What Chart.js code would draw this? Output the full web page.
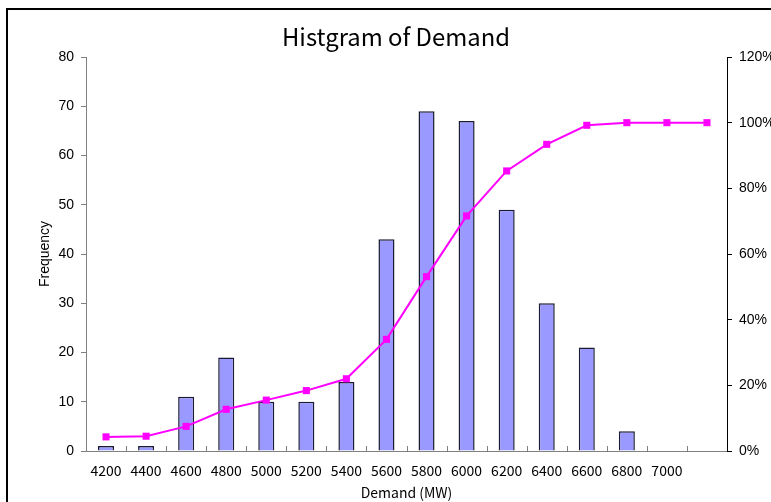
<!DOCTYPE html>
<html>
<head>
<meta charset="utf-8">
<script src="https://cdn.jsdelivr.net/npm/chart.js@4/dist/chart.umd.min.js"></script>
<style>
  html, body { margin: 0; padding: 0; background: #fff; }
</style>
</head>
<body>
<canvas id="histChart" width="771" height="502"></canvas>
<script>
// bins (upper bound of each demand class), last one is the open "more" class
const demandBins = ["4200", "4400", "4600", "4800", "5000", "5200", "5400", "5600",
  "5800", "6000", "6200", "6400", "6600", "6800", "7000", ""];
const frequency = [1, 1, 11, 19, 10, 10, 14, 43, 69, 67, 49, 30, 21, 4, 0, 0];
const cumulativePct = [4.3, 4.5, 7.5, 12.7, 15.5, 18.4, 22.0, 34.0, 53.1, 71.6, 85.3, 93.4, 99.2, 100, 100, 100];

const chartTitle = "Histgram of Demand";
const jpFont = "'Noto Sans CJK JP', 'Noto Sans', sans-serif";
const arialFont = "'Liberation Sans', Arial, sans-serif";

// white page + sheet frame + title
const framePlugin = {
  id: "frame",
  beforeDraw(chart) {
    const ctx = chart.ctx;
    ctx.save();
    ctx.fillStyle = "#fff";
    ctx.fillRect(0, 0, chart.width, chart.height);
    ctx.strokeStyle = "#000";
    ctx.lineWidth = 2;
    ctx.beginPath();
    ctx.moveTo(7, chart.height);
    ctx.lineTo(7, 9);
    ctx.lineTo(chart.width, 9);
    ctx.stroke();
    ctx.fillStyle = "#000";
    ctx.font = "24px " + jpFont;
    ctx.textAlign = "center";
    ctx.textBaseline = "alphabetic";
    ctx.fillText(chartTitle, 396, 46, 228);
    ctx.restore();
  }
};

// small tick marks on the category axis, pointing up between the bins
const innerTicks = {
  id: "innerTicks",
  afterDatasetsDraw(chart) {
    const x = chart.scales.x;
    const ctx = chart.ctx;
    const step = x.width / demandBins.length;
    ctx.save();
    ctx.strokeStyle = "#808080";
    ctx.lineWidth = 1;
    ctx.beginPath();
    for (let i = 1; i < demandBins.length; i++) {
      const px = Math.round(x.left + step * i) + 0.5;
      ctx.moveTo(px, x.top);
      ctx.lineTo(px, x.top - 5);
    }
    ctx.stroke();
    ctx.restore();
  }
};

const ctx = document.getElementById("histChart").getContext("2d");
new Chart(ctx, {
  data: {
    labels: demandBins,
    datasets: [
      {
        type: "line",
        label: "Cumulative %",
        data: cumulativePct,
        yAxisID: "y1",
        borderColor: "#FF00FF",
        borderWidth: 2,
        pointStyle: "rect",
        pointRadius: 5,
        pointBackgroundColor: "#FF00FF",
        pointBorderWidth: 0,
        tension: 0,
        order: 0
      },
      {
        type: "bar",
        label: "Frequency",
        data: frequency,
        yAxisID: "y",
        backgroundColor: "#9999FF",
        borderColor: "#1a1a33",
        borderWidth: c => (c.raw > 0 ? 1.5 : 0),
        barPercentage: 0.4,
        categoryPercentage: 1,
        order: 1
      }
    ]
  },
  options: {
    responsive: false,
    animation: false,
    layout: { padding: { top: 57, left: 0, right: 0, bottom: 0 } },
    plugins: {
      legend: { display: false },
      title: { display: false },
      tooltip: { enabled: false }
    },
    scales: {
      x: {
        offset: true,
        grid: { display: false },
        border: { color: "#808080", width: 1 },
        ticks: {
          color: "#000",
          padding: 3,
          maxRotation: 0,
          autoSkip: false,
          font: { family: jpFont, size: 14 }
        },
        title: {
          display: true,
          text: "Demand (MW)",
          color: "#000",
          font: { family: jpFont, size: 14 },
          padding: { top: 0, bottom: 1 }
        },
        afterFit: s => { s.height = 51; }
      },
      y: {
        position: "left",
        min: 0,
        max: 80,
        ticks: { stepSize: 10, color: "#000", padding: 7, font: { family: arialFont, size: 14 } },
        grid: { drawOnChartArea: false, tickLength: 5, color: "#808080" },
        border: { color: "#808080", width: 1 },
        title: {
          display: true,
          text: "Frequency",
          color: "#000",
          font: { family: arialFont, size: 14 },
          padding: { top: 37, bottom: 0 }
        },
        afterFit: s => { s.width = 86; }
      },
      y1: {
        position: "right",
        min: 0,
        max: 120,
        ticks: {
          stepSize: 20,
          color: "#000",
          padding: 7,
          font: { family: arialFont, size: 14 },
          callback: v => v + "%"
        },
        grid: { drawOnChartArea: false, tickLength: 5, color: "#000" },
        border: { color: "#000", width: 1 },
        afterFit: s => { s.width = 44; }
      }
    }
  },
  plugins: [framePlugin, innerTicks]
});
</script>
</body>
</html>
